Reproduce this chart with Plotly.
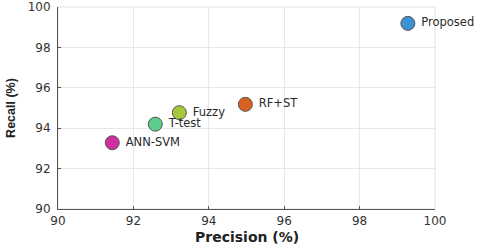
import plotly.graph_objects as go

methods = ["Proposed", "RF+ST", "Fuzzy", "T-test", "ANN-SVM"]
precision = [99.28, 94.97, 93.22, 92.58, 91.44]
recall = [99.19, 95.18, 94.77, 94.2, 93.28]
colors = ["#3b93d4", "#d9601f", "#a5c93a", "#5dcc8f", "#cf2f9c"]
x_ticks = [90, 92, 94, 96, 98, 100]
y_ticks = [90, 92, 94, 96, 98, 100]

FONT = "DejaVu Sans, Liberation Sans, Arial"

fig = go.Figure()
for m, px, ry, c in zip(methods, precision, recall, colors):
    fig.add_trace(go.Scatter(
        x=[px], y=[ry], mode="markers+text", text=[" " + m],
        textposition="middle right",
        textfont=dict(family=FONT, size=11.5, color="#2a2a2a"),
        marker=dict(size=14, color=c, line=dict(color="#555", width=1)),
        showlegend=False, cliponaxis=False, hoverinfo="skip"))

axis_common = dict(
    showgrid=True, gridcolor="#e8e8e8", gridwidth=1,
    showline=True, linecolor="#555", linewidth=1, mirror=False,
    ticks="inside", ticklen=3, tickcolor="#555", zeroline=False,
    automargin=False,
    tickfont=dict(family=FONT, size=12, color="#333"),
)
fig.update_xaxes(range=[90, 100], tickvals=x_ticks, ticklabelstandoff=1, **axis_common)
fig.update_yaxes(range=[90, 100], tickvals=y_ticks, ticklabelstandoff=4, **axis_common)
fig.add_shape(type="rect", xref="paper", yref="paper", x0=0, y0=0, x1=1, y1=1,
              line=dict(color="#e0e0e0", width=1), layer="below")
fig.add_annotation(text="<b>Precision (%)</b>", xref="paper", yref="paper",
                   x=0.5, y=-0.14, yanchor="middle", xanchor="center", showarrow=False,
                   font=dict(family=FONT, size=14, color="#222"))
fig.add_annotation(text="<b>Recall (%)</b>", xref="paper", yref="paper",
                   x=-0.125, y=0.5, xanchor="center", yanchor="middle", showarrow=False,
                   textangle=-90, font=dict(family="Liberation Sans, Arial", size=12.5, color="#222"))
fig.update_layout(width=480, height=244, margin=dict(l=58, r=45, t=7, b=35),
                  plot_bgcolor="white", paper_bgcolor="white")
fig.write_html("out.html", config={"displayModeBar": False},
               post_script="document.body.style.margin='0';document.body.style.overflow='hidden';")
